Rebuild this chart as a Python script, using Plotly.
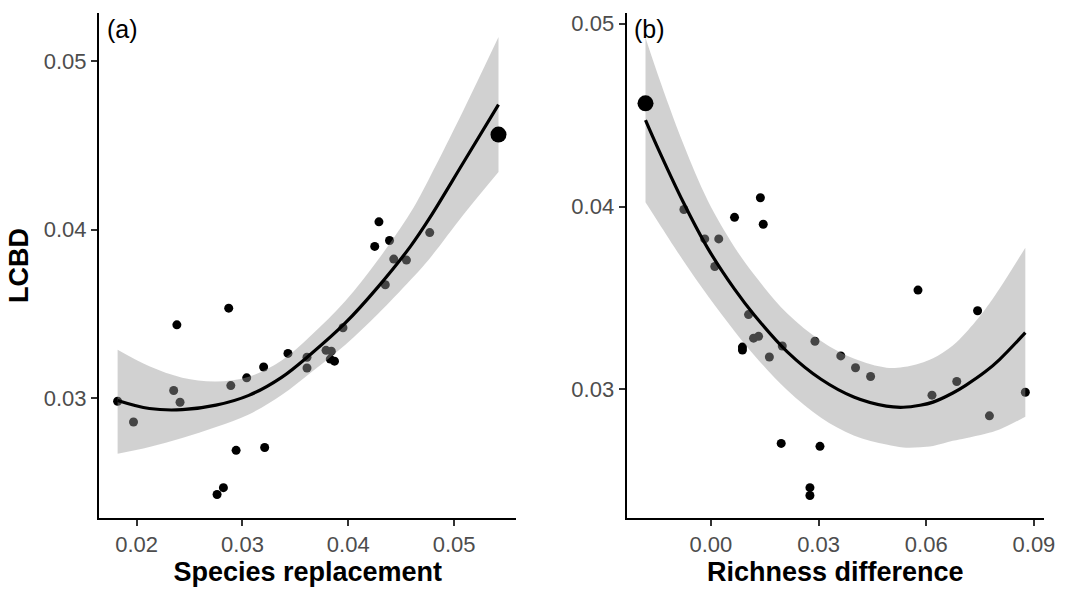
import plotly.graph_objects as go

# ---------------- data: panel (a) ----------------
species_replacement = [0.0182, 0.0197, 0.0235, 0.0238, 0.0241, 0.0287, 0.0289, 0.0304, 0.0294, 0.0282,
                       0.0276, 0.0320, 0.0321, 0.0343, 0.0361, 0.0361, 0.0379, 0.0384, 0.0383, 0.0387,
                       0.0395, 0.0435, 0.0425, 0.0429, 0.0439, 0.0443, 0.0455, 0.0477, 0.0542]
lcbd_a = [0.02983, 0.02860, 0.03047, 0.03436, 0.02977, 0.03535, 0.03076, 0.03122, 0.02692, 0.02471,
          0.02430, 0.03186, 0.02709, 0.03267, 0.03244, 0.03180, 0.03285, 0.03280, 0.03233, 0.03221,
          0.03419, 0.03674, 0.03901, 0.04047, 0.03936, 0.03826, 0.03820, 0.03983, 0.04564]
size_a = [9] * 28 + [16]

fit_x_a = [0.0182, 0.0212, 0.0243, 0.0275, 0.0306, 0.0337, 0.0365, 0.0397, 0.0428, 0.0459, 0.0477, 0.0509, 0.0542]
fit_y_a = [0.02988, 0.02940, 0.02933, 0.02960, 0.03018, 0.03125, 0.03265, 0.03446, 0.03660, 0.03903, 0.04070, 0.04400, 0.04742]
upper_a = [0.03288, 0.03190, 0.03123, 0.03100, 0.03128, 0.03225, 0.03375, 0.03576, 0.03820, 0.04103, 0.04310, 0.04710, 0.05142]
lower_a = [0.02672, 0.02712, 0.02765, 0.02830, 0.02905, 0.03020, 0.03155, 0.03316, 0.03500, 0.03703, 0.03830, 0.04090, 0.04342]

# ---------------- data: panel (b) ----------------
richness_difference = [-0.0182, -0.0075, -0.0017, 0.0022, 0.0011, 0.0066, 0.0138, 0.0146, 0.0577, 0.0105,
                       0.0119, 0.0133, 0.0088, 0.0088, 0.0199, 0.0163, 0.0290, 0.0362, 0.0403, 0.0445,
                       0.0196, 0.0304, 0.0276, 0.0276, 0.0743, 0.0616, 0.0685, 0.0776, 0.0876]
lcbd_b = [0.04565, 0.03984, 0.03823, 0.03823, 0.03672, 0.03941, 0.04048, 0.03903, 0.03543, 0.03409,
          0.03280, 0.03290, 0.03231, 0.03215, 0.03237, 0.03177, 0.03263, 0.03183, 0.03118, 0.03070,
          0.02704, 0.02688, 0.02462, 0.02419, 0.03430, 0.02968, 0.03043, 0.02855, 0.02984]
size_b = [16] + [9] * 28

fit_x_b = [-0.0182, -0.0146, -0.0077, -0.0008, 0.0066, 0.0122, 0.0213, 0.0307, 0.0398, 0.0489,
           0.0536, 0.0583, 0.0619, 0.0674, 0.0710, 0.0765, 0.0804, 0.0876]
fit_y_b = [0.04473, 0.04313, 0.04025, 0.03770, 0.03548, 0.03404, 0.03205, 0.03055, 0.02958, 0.02908,
           0.02902, 0.02913, 0.02930, 0.02980, 0.03022, 0.03097, 0.03163, 0.03310]
upper_b = [0.04923, 0.04713, 0.04345, 0.04030, 0.03778, 0.03624, 0.03415, 0.03265, 0.03168, 0.03118,
           0.03122, 0.03143, 0.03170, 0.03240, 0.03310, 0.03440, 0.03550, 0.03775]
lower_b = [0.04023, 0.03913, 0.03705, 0.03510, 0.03318, 0.03184, 0.02995, 0.02845, 0.02748, 0.02698,
           0.02682, 0.02683, 0.02690, 0.02718, 0.02733, 0.02757, 0.02780, 0.02850]

x_ticks_a = [0.02, 0.03, 0.04, 0.05]
x_ticks_b = [0.00, 0.03, 0.06, 0.09]
y_ticks = [0.03, 0.04, 0.05]

FONT = "Liberation Sans, Arial, Helvetica, sans-serif"
RIBBON = "rgba(153,153,153,0.45)"

fig = go.Figure()


def add_panel(xs, ys, sizes, fx, fy, up, lo, xa, ya):
    small = [i for i, s in enumerate(sizes) if s < 12]
    big = [i for i, s in enumerate(sizes) if s >= 12]
    fig.add_trace(go.Scatter(x=[xs[i] for i in small], y=[ys[i] for i in small], mode="markers",
                             xaxis=xa, yaxis=ya,
                             marker=dict(color="black", size=[sizes[i] for i in small], opacity=1,
                                         line=dict(width=0)),
                             showlegend=False, hoverinfo="skip"))
    fig.add_trace(go.Scatter(x=fx, y=lo, mode="lines", xaxis=xa, yaxis=ya,
                             line=dict(width=0, shape="spline", color=RIBBON),
                             showlegend=False, hoverinfo="skip"))
    fig.add_trace(go.Scatter(x=fx, y=up, mode="lines", xaxis=xa, yaxis=ya, fill="tonexty",
                             fillcolor=RIBBON, line=dict(width=0, shape="spline", color=RIBBON),
                             showlegend=False, hoverinfo="skip"))
    fig.add_trace(go.Scatter(x=fx, y=fy, mode="lines", xaxis=xa, yaxis=ya,
                             line=dict(width=3.2, shape="spline", color="black"),
                             showlegend=False, hoverinfo="skip"))
    fig.add_trace(go.Scatter(x=[xs[i] for i in big], y=[ys[i] for i in big], mode="markers",
                             xaxis=xa, yaxis=ya,
                             marker=dict(color="black", size=[sizes[i] for i in big], opacity=1,
                                         line=dict(width=0)),
                             showlegend=False, hoverinfo="skip"))


add_panel(species_replacement, lcbd_a, size_a, fit_x_a, fit_y_a, upper_a, lower_a, "x", "y")
add_panel(richness_difference, lcbd_b, size_b, fit_x_b, fit_y_b, upper_b, lower_b, "x2", "y2")

axis_common = dict(showline=True, linecolor="black", linewidth=2, ticks="outside", ticklen=6,
                   tickwidth=1.5, tickcolor="#333333", showgrid=False, zeroline=False,
                   tickfont=dict(family=FONT, size=22, color="#4d4d4d"))
title_font = dict(family=FONT, size=27, color="black", weight="bold")

fig.update_layout(
    width=1067, height=591,
    margin=dict(l=99, r=15, t=13, b=63),
    plot_bgcolor="white", paper_bgcolor="white",
    xaxis=dict(domain=[0, 0.44177], range=[0.01644, 0.0559], anchor="y",
               tickvals=x_ticks_a, ticktext=[f"{v:.2f}" for v in x_ticks_a],
               title=dict(text="Species replacement", font=title_font, standoff=3), **axis_common),
    yaxis=dict(domain=[0, 1], range=[0.02291, 0.05285], anchor="x",
               tickvals=y_ticks, ticktext=[f"{v:.2f}" for v in y_ticks],
               title=dict(text="LCBD", font=title_font, standoff=7), **axis_common),
    xaxis2=dict(domain=[0.55824, 1], range=[-0.02348, 0.0928], anchor="y2",
                tickvals=x_ticks_b, ticktext=[f"{v:.2f}" for v in x_ticks_b],
                title=dict(text="Richness difference", font=title_font, standoff=3), **axis_common),
    yaxis2=dict(domain=[0, 1], range=[0.02296, 0.05059], anchor="x2",
                tickvals=y_ticks, ticktext=[f"{v:.2f}" for v in y_ticks], **axis_common),
    annotations=[
        dict(text="(a)", x=0.0063, y=0.9689, xref="paper", yref="paper", xanchor="left",
             yanchor="middle", showarrow=False, font=dict(family=FONT, size=25, color="black")),
        dict(text="(b)", x=0.5645, y=0.9689, xref="paper", yref="paper", xanchor="left",
             yanchor="middle", showarrow=False, font=dict(family=FONT, size=25, color="black")),
    ],
)

fig.write_html("out.html")
